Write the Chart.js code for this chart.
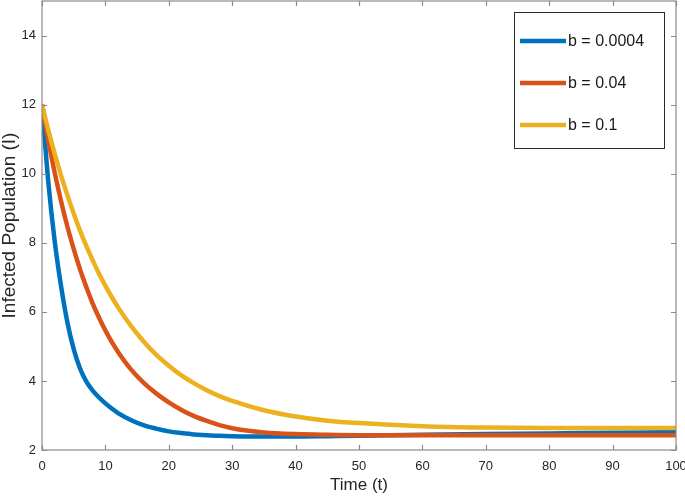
<!DOCTYPE html>
<html>
<head>
<meta charset="utf-8">
<script src="https://cdn.jsdelivr.net/npm/chart.js@4/dist/chart.umd.min.js"></script>
<style>
  html, body { margin: 0; padding: 0; background: #fff; }
  #wrap { width: 685px; height: 497px; position: relative; }
</style>
</head>
<body>
<div id="wrap"><canvas id="c" width="685" height="497"></canvas></div>
<script>
const timePoints = [0, 1, 2, 3, 4, 5, 6, 7, 8, 9, 10, 11, 12, 14, 16, 18, 20, 22, 24, 26, 28, 30, 35, 40, 45, 50, 60, 70, 80, 90, 100];
const seriesB00004 = [12, 9.75, 8.05, 6.75, 5.7, 4.92, 4.36, 3.98, 3.72, 3.52, 3.35, 3.2, 3.07, 2.87, 2.72, 2.62, 2.54, 2.49, 2.45, 2.43, 2.41, 2.40, 2.39, 2.39, 2.40, 2.41, 2.44, 2.46, 2.48, 2.50, 2.52];
const seriesB004 = [12, 10.96, 10.03, 9.21, 8.47, 7.82, 7.23, 6.71, 6.24, 5.83, 5.46, 5.13, 4.84, 4.34, 3.95, 3.64, 3.38, 3.16, 2.98, 2.84, 2.72, 2.63, 2.51, 2.46, 2.44, 2.43, 2.43, 2.43, 2.43, 2.43, 2.43];
const seriesB01 = [12, 11.26, 10.58, 9.95, 9.38, 8.85, 8.35, 7.90, 7.49, 7.10, 6.75, 6.43, 6.13, 5.60, 5.15, 4.76, 4.44, 4.16, 3.93, 3.73, 3.56, 3.42, 3.15, 2.97, 2.85, 2.78, 2.69, 2.65, 2.64, 2.64, 2.64];
const seriesLabels = ['b = 0.0004', 'b = 0.04', 'b = 0.1'];
const xTicks = [0, 10, 20, 30, 40, 50, 60, 70, 80, 90, 100];
const yTicks = [2, 4, 6, 8, 10, 12, 14];

const colors = ['#0072BD', '#D95319', '#EDB120'];
const allSeries = [seriesB00004, seriesB004, seriesB01];

const datasets = allSeries.map((s, i) => ({
  label: seriesLabels[i],
  data: timePoints.map((t, j) => ({ x: t, y: s[j] })),
  borderColor: colors[i],
  backgroundColor: colors[i],
  borderWidth: 4.5,
  pointRadius: 0,
  fill: false,
  cubicInterpolationMode: 'monotone',
  order: 3 - i
}));

const FONT = "'Liberation Sans', Arial, sans-serif";
const AXIS_COLOR = '#8a8a8a';

const framePlugin = {
  id: 'frame',
  afterDatasetsDraw(chart) {
    const { ctx, chartArea: a, scales } = chart;
    ctx.save();
    ctx.strokeStyle = AXIS_COLOR;
    ctx.lineWidth = 1.2;
    ctx.strokeRect(a.left, a.top, a.right - a.left, a.bottom - a.top);
    const tl = 5;
    ctx.beginPath();
    xTicks.forEach(v => {
      const px = Math.round(scales.x.getPixelForValue(v)) + 0.5;
      ctx.moveTo(px, a.bottom); ctx.lineTo(px, a.bottom - tl);
      ctx.moveTo(px, a.top); ctx.lineTo(px, a.top + tl);
    });
    yTicks.forEach(v => {
      const py = Math.round(scales.y.getPixelForValue(v)) + 0.5;
      ctx.moveTo(a.left, py); ctx.lineTo(a.left + tl, py);
      ctx.moveTo(a.right, py); ctx.lineTo(a.right - tl, py);
    });
    ctx.stroke();

    // legend box
    const bx = 514, by = 12, bw = 150, bh = 136;
    ctx.fillStyle = '#fff';
    ctx.fillRect(bx, by, bw, bh);
    ctx.strokeStyle = '#2a2a2a';
    ctx.lineWidth = 1;
    ctx.strokeRect(bx + 0.5, by + 0.5, bw, bh);
    ctx.font = '16px ' + FONT;
    ctx.textBaseline = 'middle';
    ctx.textAlign = 'left';
    chart.data.datasets.forEach((d, i) => {
      const y = 41 + i * 42;
      ctx.strokeStyle = d.borderColor;
      ctx.lineWidth = 4.5;
      ctx.beginPath();
      ctx.moveTo(520, y); ctx.lineTo(566, y);
      ctx.stroke();
      ctx.fillStyle = '#1a1a1a';
      ctx.fillText(d.label, 568, y + 1);
    });
    ctx.restore();
  }
};

new Chart(document.getElementById('c'), {
  type: 'line',
  data: { datasets },
  options: {
    responsive: false,
    animation: false,
    events: [],
    layout: { padding: { left: 0, right: 9, top: 1, bottom: 0 } },
    plugins: { legend: { display: false }, tooltip: { enabled: false } },
    scales: {
      x: {
        type: 'linear', min: 0, max: 100,
        afterBuildTicks: (s) => { s.ticks = xTicks.map(v => ({ value: v })); },
        afterFit: (s) => { s.height = 47; s.paddingLeft = 0; s.paddingRight = 0; },
        grid: { display: false, drawTicks: false },
        border: { display: false },
        ticks: { padding: 9, maxRotation: 0, color: '#262626', font: { family: FONT, size: 13 } },
        title: { display: true, text: 'Time (t)', color: '#262626', font: { family: FONT, size: 17 }, padding: { top: 2, bottom: 1 } }
      },
      y: {
        type: 'linear', min: 2, max: 15,
        afterBuildTicks: (s) => { s.ticks = yTicks.map(v => ({ value: v })); },
        afterFit: (s) => { s.width = 42; s.paddingTop = 0; s.paddingBottom = 0; },
        grid: { display: false, drawTicks: false },
        border: { display: false },
        ticks: { padding: 6, color: '#262626', font: { family: FONT, size: 13 } },
        title: { display: true, text: 'Infected Population (I)', color: '#262626', font: { family: FONT, size: 19 }, padding: { top: -2, bottom: 0 } }
      }
    }
  },
  plugins: [framePlugin]
});
</script>
</body>
</html>
